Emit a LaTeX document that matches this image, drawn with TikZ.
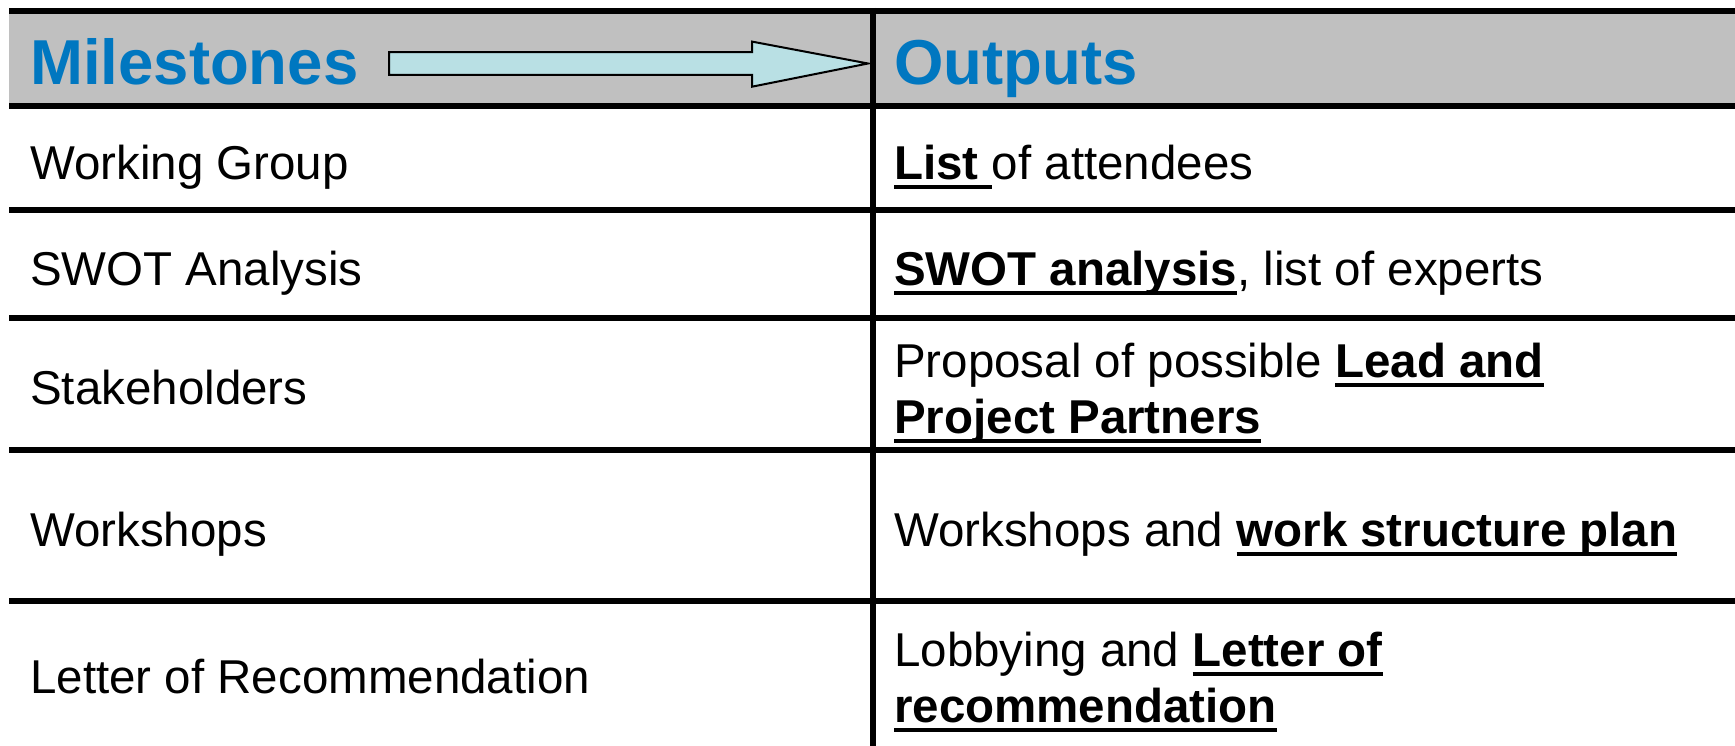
\documentclass[tikz,border=0pt]{standalone}
\usepackage{fontspec}
\setmainfont{Liberation Sans}

\definecolor{headblue}{RGB}{0,119,192}
\definecolor{headgray}{RGB}{192,192,192}
\definecolor{arrowcyan}{RGB}{185,224,228}

% bold and underlined words
\newsavebox{\ulbox}
\newcommand{\keyword}[1]{\sbox{\ulbox}{\bfseries #1}\rlap{\rule[-9.5pt]{\wd\ulbox}{4pt}}\usebox{\ulbox}}

\begin{document}
\begin{tikzpicture}[x=1pt,y=-1pt,
    cell/.style={anchor=base west,inner sep=0pt,align=left,font=\fontsize{47.5}{56}\selectfont},
    head/.style={anchor=base west,inner sep=0pt,text=headblue,font=\fontsize{63.5}{70}\selectfont\bfseries},
    rule/.style={line width=6.5pt},
    block arrow/.style={draw=black,line width=2pt,fill=arrowcyan}]
    \useasboundingbox (0,0) rectangle (1735,746);

    % header band
    \fill[headgray] (9,11) rectangle (1735,106);

    \node[head] (milestones) at (30,85) {Milestones};
    \node[head] (outputs) at (894,85) {Outputs};

    \coordinate (tail) at (389,63.5);
    \coordinate (tip) at (868,63.5);
    \draw[block arrow] (tail) ++(0,-11.3) -- ++(363,0) -- ++(0,-10.6) -- (tip)
        -- ++(-116,23.2) -- ++(0,-11.7) -- ++(-363,0) -- cycle;

    % rules
    \foreach \y in {11,106,210,318,450,601}
        \draw[rule] (9,\y) -- (1735,\y);
    \draw[rule] (873,8) -- (873,746);

    % milestones
    \node[cell] (wg) at (30,180) {Working Group};
    \node[cell] (swot) at (30,285) {SWOT Analysis};
    \node[cell] (stake) at (30,404) {Stakeholders};
    \node[cell] (ws) at (30,546) {Workshops};
    \node[cell] (letter) at (30,693) {Letter of Recommendation};

    % outputs (base = last line)
    \node[cell] (list) at (894,180) {\keyword{List\ }of attendees};
    \node[cell] (swotout) at (894,285) {\keyword{SWOT analysis}, list of experts};
    \node[cell] (partners) at (894,433) {Proposal of possible \keyword{Lead and}\\\keyword{Project Partners}};
    \node[cell] (plan) at (894,546) {Workshops and \keyword{work structure plan}};
    \node[cell] (lobby) at (894,722) {Lobbying and \keyword{Letter of}\\\keyword{recommendation}};
\end{tikzpicture}
\end{document}
